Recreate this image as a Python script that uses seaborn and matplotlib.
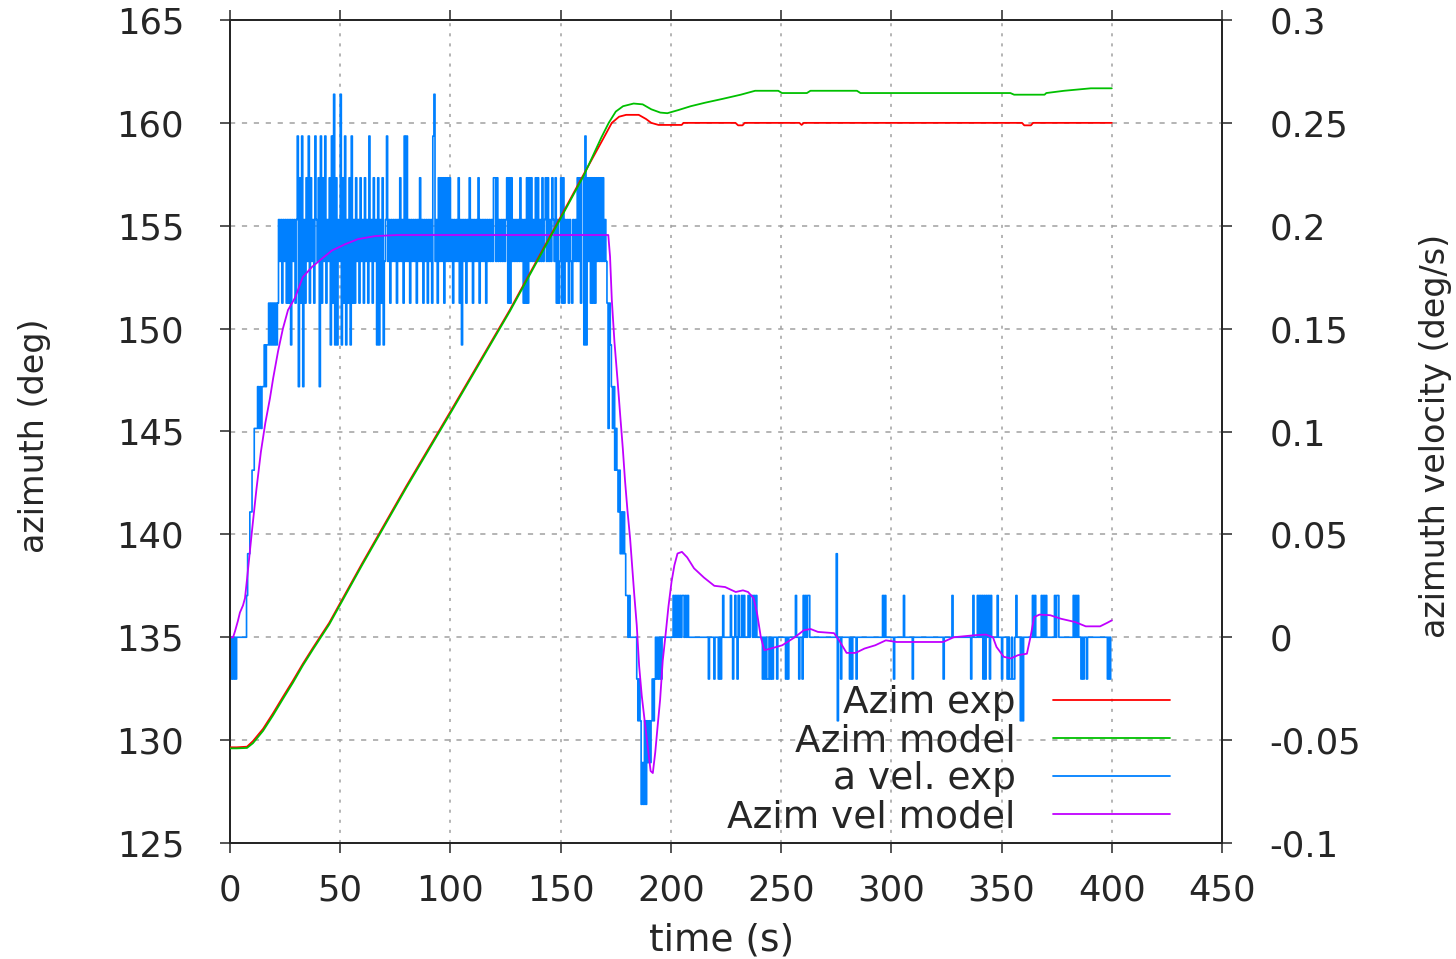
import numpy as np
import pandas as pd
import matplotlib
matplotlib.use("Agg")
import matplotlib.pyplot as plt
from matplotlib.lines import Line2D
import seaborn as sns

# ---------------- data ----------------
TIME_TICKS = [0, 50, 100, 150, 200, 250, 300, 350, 400, 450]
AZ_TICKS = [125, 130, 135, 140, 145, 150, 155, 160, 165]
VEL_TICKS = [-0.1, -0.05, 0.0, 0.05, 0.1, 0.15, 0.2, 0.25, 0.3]
VEL_TICK_LABELS = ["-0.1", "-0.05", "0", "0.05", "0.1", "0.15", "0.2", "0.25", "0.3"]
SERIES_NAMES = ["Azim exp", "Azim model", "a vel. exp", "Azim vel model"]
SERIES_COLORS = ["#ff0000", "#00c000", "#0080ff", "#c000ff"]

# Azimuth, experiment (deg)
RED_T = [0, 3, 7.7, 10.4, 15, 19.5, 24, 28.6, 33, 37.7,
         45, 60, 80, 100.6, 127, 137.6, 149.7, 160.3, 169.4, 173.2,
         176.5, 179.7, 185.4, 188.7, 191.1, 194.4, 204.9, 205.7, 229.3, 230.5,
         232.5, 233.5, 258.3, 259.3, 260.3, 359.3, 360.3, 363.3, 364.3, 400]
RED_Y = [129.65, 129.65, 129.68, 129.95, 130.55, 131.3, 132.1, 132.9, 133.7, 134.5,
         135.7, 138.6, 142.35, 146.08, 150.92, 153.0, 155.37, 157.47, 159.25, 160.0,
         160.3, 160.39, 160.39, 160.19, 160.0, 159.9, 159.9, 160.0, 160.0, 159.88,
         159.88, 160.0, 160.0, 159.9, 160.0, 160.0, 159.88, 159.88, 160.0, 160.0]

# Azimuth, model (deg)
GREEN_T = [0, 3, 7.7, 10.4, 15, 19.5, 24, 28.6, 33, 37.7,
           45, 60, 80, 100.6, 127, 137.6, 149.7, 160.3, 168.5, 171.8,
           175, 178.3, 183.1, 187.2, 191.1, 195.2, 198.4, 203.3, 209, 215.5,
           223.6, 231.7, 238.2, 248.7, 250.4, 261.7, 263.3, 284.4, 286, 354,
           355.7, 369.5, 370.3, 378.4, 390.5, 400]
GREEN_Y = [129.6, 129.6, 129.62, 129.85, 130.45, 131.2, 132.0, 132.8, 133.62, 134.42,
           135.62, 138.52, 142.27, 146.0, 150.85, 152.93, 155.3, 157.4, 159.3, 160.0,
           160.55, 160.81, 160.94, 160.9, 160.66, 160.5, 160.47, 160.62, 160.81, 160.98,
           161.17, 161.37, 161.56, 161.56, 161.45, 161.45, 161.56, 161.56, 161.45, 161.45,
           161.37, 161.37, 161.45, 161.56, 161.68, 161.68]

# Azimuth velocity, model (deg/s)
MAG_T = [0, 1.4, 2.3, 3.6, 4.5, 5.9, 6.8, 7.7, 10, 12,
         14, 16, 18.1, 19.6, 21.8, 24, 26.3, 29.5, 33, 37.2,
         41.7, 46.3, 52.2, 58, 66, 76, 90, 171.6, 172.4, 173.2,
         174.4, 175.8, 177, 178.2, 179.2, 180.3, 181.5, 182.5, 183.4, 184.5,
         185.6, 186.8, 188.2, 189.6, 190.8, 191.8, 192.9, 194, 195.1, 196.3,
         197.7, 198.9, 200.3, 201.6, 203, 205, 207.4, 210.5, 215, 219.7,
         224.6, 229.4, 232.7, 235, 237.5, 239.1, 240.8, 242.4, 245.6, 250.5,
         256.2, 260.3, 263.4, 266.7, 274, 276.3, 279.7, 283.8, 287.8, 292.7,
         297.5, 302.4, 313.7, 323.5, 328.3, 338, 342.9, 346.1, 347.7, 351,
         354.2, 357.5, 361.5, 363.1, 364.8, 367.2, 372.1, 376.9, 383.4, 388.2,
         394.7, 397.9, 400]
MAG_V = [0, 0, 0.003, 0.008, 0.012, 0.0155, 0.019, 0.028, 0.052, 0.072,
         0.09, 0.104, 0.116, 0.126, 0.139, 0.150, 0.159, 0.165, 0.175, 0.180,
         0.184, 0.188, 0.191, 0.1935, 0.195, 0.1955, 0.1955, 0.1955, 0.185, 0.164,
         0.1435, 0.125, 0.108, 0.0916, 0.076, 0.0616, 0.048, 0.0335, 0.0205, 0.006,
         -0.014, -0.0286, -0.0415, -0.054, -0.065, -0.066, -0.056, -0.043, -0.0305, -0.0114,
         0.0024, 0.015, 0.027, 0.035, 0.0407, 0.0415, 0.0388, 0.0335, 0.029, 0.025,
         0.0244, 0.022, 0.0228, 0.022, 0.019, 0.0116, 0.0, -0.0063, -0.0054, -0.0039,
         0.0, 0.0034, 0.004, 0.0026, 0.002, -0.0015, -0.0076, -0.0076, -0.0055, -0.0039,
         -0.0015, -0.0023, -0.0023, -0.0023, 0.0, 0.001, 0.0013, 0.0, -0.0047, -0.0095,
         -0.0103, -0.0087, -0.008, 0.0, 0.0098, 0.011, 0.0107, 0.009, 0.0074, 0.0053,
         0.0053, 0.007, 0.0082]

# Azimuth velocity, experiment: quantised samples every 0.5 s.
# One character per sample; level = index in VEL_CODES - 4, value = level * VEL_STEP
VEL_STEP = 0.0203
VEL_DT = 0.5
VEL_CODES = "nmlk0123456789ABCD"
VEL_EXP_LEVELS = (
    "0k0k0k00000000012233"  # 0-10 s
    "44555656566767787878"  # 10
    "7878A9A8A9A8A8A7A9A8"  # 20
    "AC6B8C6A8B9C8B9A8CA9"  # 30
    "B6C8B9C8A9B7C8D7B7A9"  # 40
    "D7B8C7A8B7C8A8B9A8B9"  # 50
    "A8B9A8C9A8B9A7B7A8B7"  # 60
    "9AC9A8A9A9A8A9B9A8C9"  # 70
    "C9A8A9A9A8A9B9A8A9A8"  # 80
    "A9A8CD9A8B9B9B8B9B9B"  # 90
    "9A8A9A9B8A7A9A8A9B9A"  # 100
    "8A9A9B8A9A9A8A9A9A9B"  # 110
    "B9B9A9A9A9AB8B8B9A9A"  # 120
    "9A9B9A8A8B8B9B9A9B9B"  # 130
    "9A9B9AB9B9A9BA9B8A89"  # 140
    "B8B8A9A8A98A9A9B9B8B"  # 150
    "B7C7B9B8B8B8B9B9B9B9"  # 160
    "A9858765645434232321"  # 170
    "101000000klklnmnlnlm"  # 180
    "lmlklk0k0k0k00000000"  # 190
    "00101010101101010000"  # 200
    "00000000000000k0000k"  # 210
    "000k0k0100000010k010"  # 220
    "k1001010001011010100"  # 230
    "000k0k0kk0k0k000k000"  # 240
    "0000k0k000000100k00k"  # 250
    "10101100000000000000"  # 260
    "00000000002l00k00000"  # 270
    "00k0k000k00000000000"  # 280
    "00000000000010100000"  # 290
    "00k0000000010000000k"  # 300
    "00000000000000000000"  # 310
    "0000000k000000010000"  # 320
    "000000000000k0100010"  # 330
    "101k1k101k1000001000"  # 340
    "k0000k0kk0kk01000l0l"  # 350
    "00000000101000001010"  # 360
    "10000000101100000000"  # 370
    "000001010100k0k00k00"  # 380
    "0000000000000000k0k0"  # 390
)

# ---------------- build tables ----------------
levels = np.array([VEL_CODES.index(c) - 4 for c in VEL_EXP_LEVELS])
blue_df = pd.DataFrame({"t": np.arange(len(levels)) * VEL_DT, "v": levels * VEL_STEP})
mag_df = pd.DataFrame({"t": MAG_T, "v": MAG_V})
red_df = pd.DataFrame({"t": RED_T, "az": RED_Y})
green_df = pd.DataFrame({"t": GREEN_T, "az": GREEN_Y})

# ---------------- style ----------------
sns.set_style("white")
TXT = "#262626"
plt.rcParams["font.family"] = ["DejaVu Sans"]
plt.rcParams["axes.unicode_minus"] = False
plt.rcParams["text.color"] = TXT

W, H = 1456, 959
fig = plt.figure(figsize=(W / 100, H / 100), dpi=100)
L, R, T, B = 230, 1222, 20, 843
ax1 = fig.add_axes([L / W, 1 - B / H, (R - L) / W, (B - T) / H])  # velocity axis (right)
ax2 = ax1.twinx()                                                # azimuth axis (left)

# velocity curves (drawn underneath)
sns.lineplot(data=blue_df, x="t", y="v", ax=ax1, color=SERIES_COLORS[2], lw=1.2,
             drawstyle="steps-post", estimator=None, sort=False, zorder=2)
sns.lineplot(data=mag_df, x="t", y="v", ax=ax1, color=SERIES_COLORS[3], lw=1.3,
             estimator=None, sort=False, zorder=3)
# azimuth curves
sns.lineplot(data=red_df, x="t", y="az", ax=ax2, color=SERIES_COLORS[0], lw=1.3,
             estimator=None, sort=False, zorder=3)
sns.lineplot(data=green_df, x="t", y="az", ax=ax2, color=SERIES_COLORS[1], lw=1.3,
             estimator=None, sort=False, zorder=3)

ax1.set_xlim(TIME_TICKS[0], TIME_TICKS[-1])
ax1.set_ylim(VEL_TICKS[0], VEL_TICKS[-1])
ax2.set_ylim(AZ_TICKS[0], AZ_TICKS[-1])
for a in (ax1, ax2):
    a.set_xlabel("")
    a.set_ylabel("")

ax1.set_xticks(TIME_TICKS)
ax1.set_xticklabels([str(v) for v in TIME_TICKS])
ax1.set_yticks(VEL_TICKS)
ax1.set_yticklabels(VEL_TICK_LABELS)
ax2.set_yticks(AZ_TICKS)
ax2.set_yticklabels([str(v) for v in AZ_TICKS])

ax1.tick_params(axis="x", direction="out", length=7, width=1.1, top=True, bottom=True,
                labeltop=False, labelbottom=True, pad=15, labelsize=25.5,
                colors=TXT)
ax1.tick_params(axis="y", direction="out", length=7, width=1.1, left=False, right=True,
                labelleft=False, labelright=True, pad=27, labelsize=25.5, colors=TXT)
ax2.tick_params(axis="y", direction="out", length=7, width=1.1, left=True, right=False,
                labelleft=True, labelright=False, pad=26, labelsize=25.5, colors=TXT)

# grid
ax1.set_axisbelow(True)
ax1.grid(True, axis="x", color="#a0a0a0", lw=1.1, linestyle=(0, (2.0, 4.6)))
ax1.grid(True, axis="y", color="#a0a0a0", lw=1.1, linestyle=(0, (3.4, 4.4)))

for a in (ax1, ax2):
    for s in a.spines.values():
        s.set_visible(True)
        s.set_linewidth(1.4)
        s.set_color(TXT)

# axis labels
fig.text(35 / W, 1 - 436 / H, "azimuth (deg)", rotation=90, ha="center", va="center",
         fontsize=24, color=TXT)
fig.text(1435 / W, 1 - 436 / H, "azimuth velocity (deg/s)", rotation=90, ha="center",
         va="center", fontsize=24, color=TXT)
fig.text(722 / W, 1 - 923 / H, "time (s)", ha="center", va="top", fontsize=27, color=TXT)

# legend (gnuplot style: text right aligned, sample on the right)
handles = [Line2D([], [], color=c, lw=1.3) for c in SERIES_COLORS]
ax2.legend(handles, SERIES_NAMES, loc="lower right",
           bbox_to_anchor=(1170 / W, 1 - 835 / H), bbox_transform=fig.transFigure,
           frameon=False, markerfirst=False, handlelength=3.12, handletextpad=1.0,
           labelspacing=0.05, borderpad=0, borderaxespad=0, fontsize=27,
           labelcolor=TXT)

fig.savefig("out.png", dpi=100)
